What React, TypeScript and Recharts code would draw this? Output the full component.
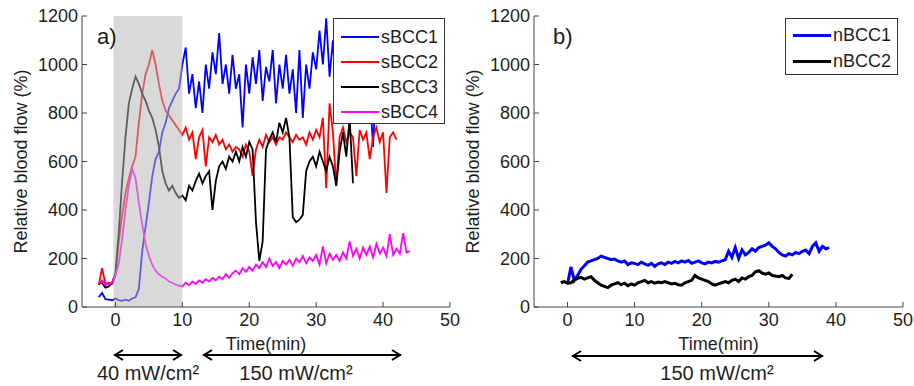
import React from 'react';
import { LineChart, Line, XAxis, YAxis, ReferenceArea, Legend } from 'recharts';

const FONT = '"Liberation Sans", Arial, sans-serif';
const STEP = 0.5; // minutes between samples

const X_TICKS = [0, 10, 20, 30, 40, 50];
const Y_TICKS = [0, 200, 400, 600, 800, 1000, 1200];

// panel a) superficial BCC, samples every 0.5 min
const sBCC1Start = -2.5;
const sBCC1 = [
  40, 58, 32, 30, 28, 35, 28, 25, 30, 26, 35, 40, 75, 230, 330, 430, 540, 610, 640, 720, 760, 820, 850, 880, 900, 1000,
  1070, 880, 960, 820, 930, 800, 1000, 900, 1050, 960,
  1130, 920, 1000, 880, 1040, 900, 960, 740, 1000, 880,
  1030, 920, 1060, 850, 990, 930, 1060, 840, 1000, 900,
  1040, 880, 980, 800, 1060, 780, 1000, 900, 1050, 980,
  1140, 1000, 1190, 950, 1100, 870, 1050, 980, 1000, 900,
  950, 880, 920, 960, 1000, 900, 660, 950,
];

const sBCC2Start = -2.5;
const sBCC2 = [
  90, 160, 95, 100, 95, 130, 270, 380, 470, 530, 580, 620, 760, 880, 960, 1000, 1060, 1000, 920, 850, 810, 790, 770, 750, 730, 710,
  740, 690, 720, 610, 700, 730, 580, 700, 680, 710,
  670, 690, 650, 670, 640, 660, 650, 620, 670, 640,
  540, 650, 690, 660, 710, 680, 700, 670, 700, 690,
  720, 700, 680, 710, 690, 700, 670, 720, 690, 730,
  700, 780, 490, 840, 720, 500, 700, 740, 680, 720,
  700, 540, 730, 690, 720, 610, 700, 740, 680, 720,
  470, 700, 720, 690,
];

const sBCC3Start = -2.5;
const sBCC3 = [
  95, 100, 80, 85, 100, 140, 310, 520, 700, 840, 900, 950, 920, 880, 850, 810, 780, 730, 660, 560, 510, 480, 500, 470, 450, 460,
  440, 500, 480, 520, 550, 510, 540, 560, 400, 520,
  580, 600, 570, 620, 600, 640, 600, 660, 620, 680,
  650, 350, 190, 270, 650, 690, 720, 680, 760, 720,
  780, 700, 370, 350, 360, 380, 560, 600, 620, 580,
  640, 600, 560, 620, 580, 500, 640, 720, 620, 780,
  510,
];

const sBCC4Start = -2.5;
const sBCC4 = [
  95, 110, 90, 95, 100, 130, 180, 280, 400, 500, 570, 530, 430, 340, 260, 210, 175, 150, 135, 125, 118, 105, 100, 92, 88, 85,
  100, 90, 105, 95, 110, 100, 115, 105, 120, 110,
  125, 115, 135, 120, 140, 150, 135, 160, 145, 165,
  150, 175, 160, 185, 165, 200, 170, 185, 160, 190,
  175, 195, 170, 200, 185, 210, 180, 205, 190, 215,
  175, 250, 180, 220, 195, 215, 190, 225, 200, 270,
  210, 240, 200, 245, 215, 250, 205, 260, 220, 245,
  210, 300, 215, 240, 220, 305, 225, 230,
];

// panel b) nodular BCC
const nBCC1Start = 0;
const nBCC1 = [
  95, 165, 110, 130, 155, 170, 185, 190, 195, 200,
  210, 205, 200, 195, 198, 190, 185, 190, 175, 182,
  180, 175, 185, 178, 172, 180, 168, 178, 182, 175,
  185, 180, 188, 182, 190, 185, 192, 180, 185, 190,
  182, 178, 185, 182, 188, 185, 190, 195, 230, 205,
  245, 200, 235, 215, 225, 240, 230, 245, 250, 255,
  265, 250, 240, 225, 215, 210, 220, 215, 225, 220,
  230, 235, 220, 250, 265, 230, 250, 240, 245,
];

const nBCC2Start = -1;
const nBCC2 = [
  100, 105, 98, 100, 110, 118, 122, 115, 120, 125,
  110, 100, 90, 85, 80, 90, 95, 100, 92, 98,
  88, 95, 90, 100, 105, 110, 100, 105, 98, 103,
  100, 105, 100, 95, 98, 92, 90, 100, 105, 110,
  130, 120, 115, 110, 105, 95, 90, 95, 100, 105,
  100, 110, 115, 105, 120, 115, 125, 130, 145, 150,
  140, 135, 140, 130, 128, 125, 130, 120, 118, 135,
];

const toPoints = (start: number, vals: number[]) => vals.map((v, i) => ({ t: start + i * STEP, v }));

const panelA = [
  { name: 'sBCC1', color: '#0000ff', data: toPoints(sBCC1Start, sBCC1) },
  { name: 'sBCC2', color: '#ff0000', data: toPoints(sBCC2Start, sBCC2) },
  { name: 'sBCC3', color: '#000000', data: toPoints(sBCC3Start, sBCC3) },
  { name: 'sBCC4', color: '#ff00ff', data: toPoints(sBCC4Start, sBCC4) },
];

const panelB = [
  { name: 'nBCC1', color: '#0000ff', data: toPoints(nBCC1Start, nBCC1) },
  { name: 'nBCC2', color: '#000000', data: toPoints(nBCC2Start, nBCC2) },
];

const AXIS = '#444';
const TEXT = '#1e1e1e';
const tickStyle = { fontSize: 18, fill: TEXT, fontFamily: FONT };

const LegendBox = ({ payload, box, lineW, rowH }: any) => (
  <div
    style={{
      width: box.w,
      height: box.h,
      boxSizing: 'border-box',
      border: '1px solid #333',
      background: '#fff',
      paddingTop: box.pad,
      fontFamily: FONT,
    }}
  >
    {(payload || []).map((p: any) => (
      <div key={p.value} style={{ height: rowH, display: 'flex', alignItems: 'center' }}>
        <span style={{ marginLeft: 7, width: 38, height: lineW, background: p.color, display: 'inline-block' }} />
        <span style={{ marginLeft: 2, fontSize: 18, color: TEXT, lineHeight: 1 }}>{p.value}</span>
      </div>
    ))}
  </div>
);

const Panel = ({ series, width, margin, strokeWidth, legend, shade }: any) => (
  <LineChart width={width} height={386} margin={margin}>
    <XAxis
      dataKey="t"
      type="number"
      domain={[-5, 50]}
      ticks={X_TICKS}
      interval={0}
      allowDataOverflow
      height={45}
      tickSize={-5}
      tickMargin={11}
      stroke={AXIS}
      tick={tickStyle}
      label={{ value: 'Time(min)', position: 'insideBottom', offset: 2, fill: TEXT, fontSize: 18, fontFamily: FONT }}
    />
    <XAxis
      xAxisId="top"
      orientation="top"
      type="number"
      domain={[-5, 50]}
      ticks={X_TICKS}
      interval={0}
      height={0}
      tickSize={-5}
      tickFormatter={() => ''}
      stroke={AXIS}
    />
    <YAxis
      type="number"
      domain={[0, 1200]}
      ticks={Y_TICKS}
      interval={0}
      allowDataOverflow
      width={62}
      tickSize={-5}
      tickMargin={9}
      stroke={AXIS}
      tick={tickStyle}
      label={{
        value: 'Relative blood flow (%)',
        angle: -90,
        position: 'insideLeft',
        offset: 1,
        fill: TEXT,
        fontSize: 18,
        fontFamily: FONT,
        style: { textAnchor: 'middle' },
      }}
    />
    <YAxis
      yAxisId="r"
      orientation="right"
      type="number"
      domain={[0, 1200]}
      ticks={Y_TICKS}
      interval={0}
      width={0}
      tickSize={-5}
      tickFormatter={() => ''}
      stroke={AXIS}
    />
    {series.map((s: any) => (
      <Line
        key={s.name}
        name={s.name}
        data={s.data}
        dataKey="v"
        type="linear"
        stroke={s.color}
        strokeWidth={strokeWidth}
        dot={false}
        activeDot={false}
        isAnimationActive={false}
      />
    ))}
    {shade && (
      <ReferenceArea
        x1={shade[0]}
        x2={shade[1]}
        y1={0}
        y2={1200}
        fill="#b7b7b7"
        fillOpacity={0.52}
        stroke="none"
        zIndex={450}
      />
    )}
    <Legend
      layout="vertical"
      verticalAlign="middle"
      align="center"
      wrapperStyle={{ top: legend.top, left: legend.left, width: legend.w, height: legend.h }}
      content={(props: any) => (
        <LegendBox payload={props.payload} box={legend} lineW={legend.lineW} rowH={legend.rowH} />
      )}
    />
  </LineChart>
);

const Arrow = ({ x1, x2, y }: { x1: number; x2: number; y: number }) => (
  <g stroke="#000" strokeWidth={2} fill="none">
    <line x1={x1} y1={y} x2={x2} y2={y} />
    <polyline points={`${x1 + 9},${y - 5} ${x1 + 1},${y} ${x1 + 9},${y + 5}`} />
    <polyline points={`${x2 - 9},${y - 5} ${x2 - 1},${y} ${x2 - 9},${y + 5}`} />
  </g>
);

export default function App() {
  return (
    <div style={{ position: 'absolute', left: 0, top: 0, width: 914, height: 386, background: '#fff' }}>
      <div style={{ position: 'absolute', left: 0, top: 0 }}>
        <Panel
          series={panelA}
          width={460}
          margin={{ top: 16, right: 10, bottom: 34, left: 20 }}
          strokeWidth={1.8}
          shade={[-0.3, 10]}
          legend={{ top: 18, left: 333, w: 112, h: 106, pad: 5, lineW: 2, rowH: 25 }}
        />
      </div>
      <div style={{ position: 'absolute', left: 460, top: 0 }}>
        <Panel
          series={panelB}
          width={454}
          margin={{ top: 16, right: 11, bottom: 34, left: 12 }}
          strokeWidth={3}
          legend={{ top: 18, left: 325, w: 113, h: 57, pad: 3, lineW: 3, rowH: 26 }}
        />
      </div>
      <svg
        width={914}
        height={386}
        style={{ position: 'absolute', left: 0, top: 0, pointerEvents: 'none' }}
        fontFamily={FONT}
        fill={TEXT}
      >
        <text x={97} y={44} fontSize={22}>a)</text>
        <text x={553} y={44} fontSize={22}>b)</text>
        <Arrow x1={114} x2={182} y={355} />
        <Arrow x1={203} x2={401} y={355} />
        <Arrow x1={572} x2={823} y={356} />
        <text x={148} y={380} fontSize={20} textAnchor="middle">40 mW/cm²</text>
        <text x={296} y={380} fontSize={20} textAnchor="middle">150 mW/cm²</text>
        <text x={717} y={380} fontSize={20} textAnchor="middle">150 mW/cm²</text>
      </svg>
    </div>
  );
}
